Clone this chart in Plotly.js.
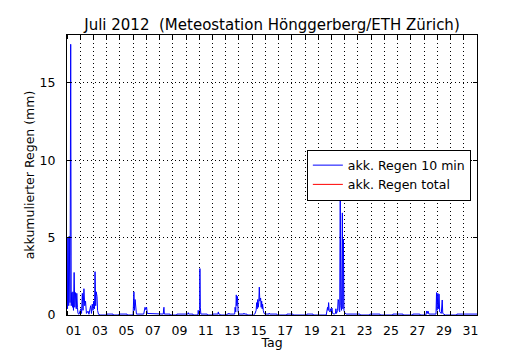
<!DOCTYPE html>
<html>
<head>
<meta charset="utf-8">
<script src="https://cdn.plot.ly/plotly-3.0.1.min.js"></script>
<style>html,body{margin:0;padding:0;background:#fff;}#chart{width:530px;height:350px;}</style>
</head>
<body>
<div id="chart"></div>
<script>
// Zeit in Tagen seit 1. Juli 2012 00:00
const tageSeit1Juli = [
  0.00,0.04,0.08,0.13,0.17,0.23,0.28,0.32,0.36,0.42,0.45,0.49,0.54,0.59,0.64,0.70,0.74,0.79,0.83,0.91,
  1.04,1.10,1.16,1.21,1.28,1.34,1.40,1.47,1.59,1.66,1.79,1.85,1.91,1.97,
  2.02,2.08,2.12,2.17,2.21,2.27,2.31,2.38,2.50,
  3.00,3.02,3.48,3.50,3.92,3.93,4.54,4.56,4.98,
  5.00,5.06,5.10,5.15,5.20,5.25,5.80,5.84,5.90,5.95,6.02,6.07,6.22,6.27,
  7.28,7.31,7.33,7.36,7.79,7.81,8.29,8.31,9.14,9.17,9.20,9.52,9.54,9.88,9.90,9.92,9.96,
  10.03,10.05,10.08,10.12,10.60,10.62,11.02,11.04,11.42,11.44,11.47,11.56,11.58,
  12.07,12.09,12.22,12.24,12.27,12.68,12.71,12.76,12.80,12.84,12.89,12.94,
  13.00,13.36,13.38,13.41,13.60,13.62,14.10,14.20,14.30,14.34,14.38,14.42,14.46,14.50,14.54,14.58,14.64,14.68,14.72,14.76,14.79,14.84,14.90,
  15.00,15.27,15.29,15.32,15.87,15.89,16.61,16.63,17.08,17.10,18.12,18.14,18.60,18.62,
  19.60,19.66,19.70,19.74,19.78,19.82,19.88,19.93,19.98,
  20.03,20.08,20.20,20.30,20.33,20.37,20.46,20.50,20.54,20.58,20.62,20.66,20.70,20.76,20.82,20.86,20.90,20.94,
  21.00,21.10,22.15,22.17,22.88,22.90,23.66,23.68,24.62,24.64,25.40,25.42,26.13,26.15,26.68,26.70,
  27.13,27.15,27.20,27.24,27.30,27.36,27.90,27.94,27.98,
  28.04,28.08,28.13,28.18,28.30,28.37,28.41,28.50,28.60,29.46,29.48,31.00
];
// akk. Regen je 10 min (mm)
const regen10min = [
  5.0,0.4,5.0,0.6,5.1,0.8,17.5,0.6,1.45,0.5,1.5,0.3,2.75,0.5,1.45,0.4,1.4,0.5,0.1,0.05,
  0.4,0.1,1.4,0.3,1.7,0.6,0.9,0.1,0.25,0.05,0.6,0.1,0.7,0.3,
  0.9,0.4,2.8,0.6,1.5,1.2,0.3,0.05,0,
  0,0.06,0.06,0,0,0.06,0.06,0,0,
  0.1,1.5,0.3,1.0,0.3,0.06,0.06,0.3,0.5,0.35,0.5,0.1,0.1,0.06,
  0.06,0.4,0.5,0.06,0.06,0,0,0.06,0.06,0.15,0.06,0.06,0,0,0.06,0.3,0.06,
  0.1,3.0,0.5,0.06,0.06,0,0,0.06,0.06,0.2,0.06,0.06,0,
  0,0.06,0.06,0.12,0.06,0.06,0.5,0.2,1.3,0.6,1.2,0.2,
  0.06,0.06,0.12,0.06,0.06,0,0,0.06,0.3,0.8,0.4,1.0,0.5,0.8,1.8,0.9,1.1,0.5,0.9,0.4,0.7,0.3,0.1,
  0.06,0.06,0.12,0.06,0.06,0,0,0.06,0.06,0,0,0.06,0.06,0,
  0,0.2,0.5,0.3,0.8,0.3,0.2,0.4,0.2,
  0.45,0.1,0.06,0.1,0.4,0.1,0.3,1.0,0.9,0.3,0.2,8.5,0.6,0.3,6.6,0.4,4.9,0.3,
  0.15,0.06,0.06,0,0,0.06,0.06,0,0,0.06,0.06,0,0,0.06,0.06,0,
  0,0.06,0.26,0.1,0.25,0.06,0.06,1.45,0.3,
  1.4,0.4,1.35,0.2,0.1,0.97,0.1,0.06,0,0,0.06,0.06
];
// akk. Regen total (im Bild nicht sichtbar, nur in der Legende)
const tageTotal = [null];
const regenTotal = [null];

const tickTage = [1,3,5,7,9,11,13,15,17,19,21,23,25,27,29,31];
const tickLabels = ['01','03','05','07','09','11','13','15','17','19','21','23','25','27','29','31'];
const yTicks = [0,5,10,15];

const traces = [
  {x: tageSeit1Juli, y: regen10min, type:'scatter', mode:'lines', name:'akk. Regen 10 min',
   line:{color:'#0000ff', width:1}},
  {x: tageTotal, y: regenTotal, type:'scatter', mode:'lines', name:'akk. Regen total',
   line:{color:'#ff0000', width:1}}
];

const layout = {
  width:530, height:350,
  margin:{l:67, r:53, t:35, b:35, pad:0},
  paper_bgcolor:'#ffffff', plot_bgcolor:'#ffffff',
  font:{family:'DejaVu Sans, sans-serif', size:12.5, color:'#000'},
  showlegend:true,
  title:{text:'Juli 2012  (Meteostation Hönggerberg/ETH Zürich)', font:{size:15, color:'#000'},
         xref:'paper', x:0.5, xanchor:'center', yref:'container', y:0.93, yanchor:'middle'},
  xaxis:{
    range:[0,31], showline:true, linecolor:'#000', linewidth:1, mirror:'ticks',
    tickmode:'array', tickvals: tickTage.map(d => d - 0.5), ticktext: tickLabels,
    ticks:'', showgrid:false, zeroline:false, ticklabelstandoff:4,
    tickfont:{size:12.5},
    minor:{tick0:0, dtick:1, ticks:'inside', ticklen:4, tickcolor:'#000', tickwidth:1,
           showgrid:true, gridcolor:'#000', griddash:'1px,3px', gridwidth:1},
    title:{text:'Tag', font:{size:12.5}, standoff:2}
  },
  yaxis:{
    range:[0,18.1], showline:true, linecolor:'#000', linewidth:1, mirror:'ticks',
    tickmode:'array', tickvals:yTicks, ticks:'inside', ticklen:4, tickcolor:'#000',
    showgrid:true, gridcolor:'#000', griddash:'1px,3px', gridwidth:1, zeroline:false,
    ticklabelstandoff:8, tickfont:{size:12.5},
    title:{text:'akkumulierter Regen (mm)', font:{size:12.5}, standoff:2}
  },
  legend:{x:0.985, xanchor:'right', y:0.5, yanchor:'middle', bgcolor:'#fff',
          bordercolor:'#000', borderwidth:1, font:{size:12.5}, itemwidth:30, tracegroupgap:0}
};

Plotly.newPlot('chart', traces, layout, {staticPlot:true, displayModeBar:false});
</script>
</body>
</html>
